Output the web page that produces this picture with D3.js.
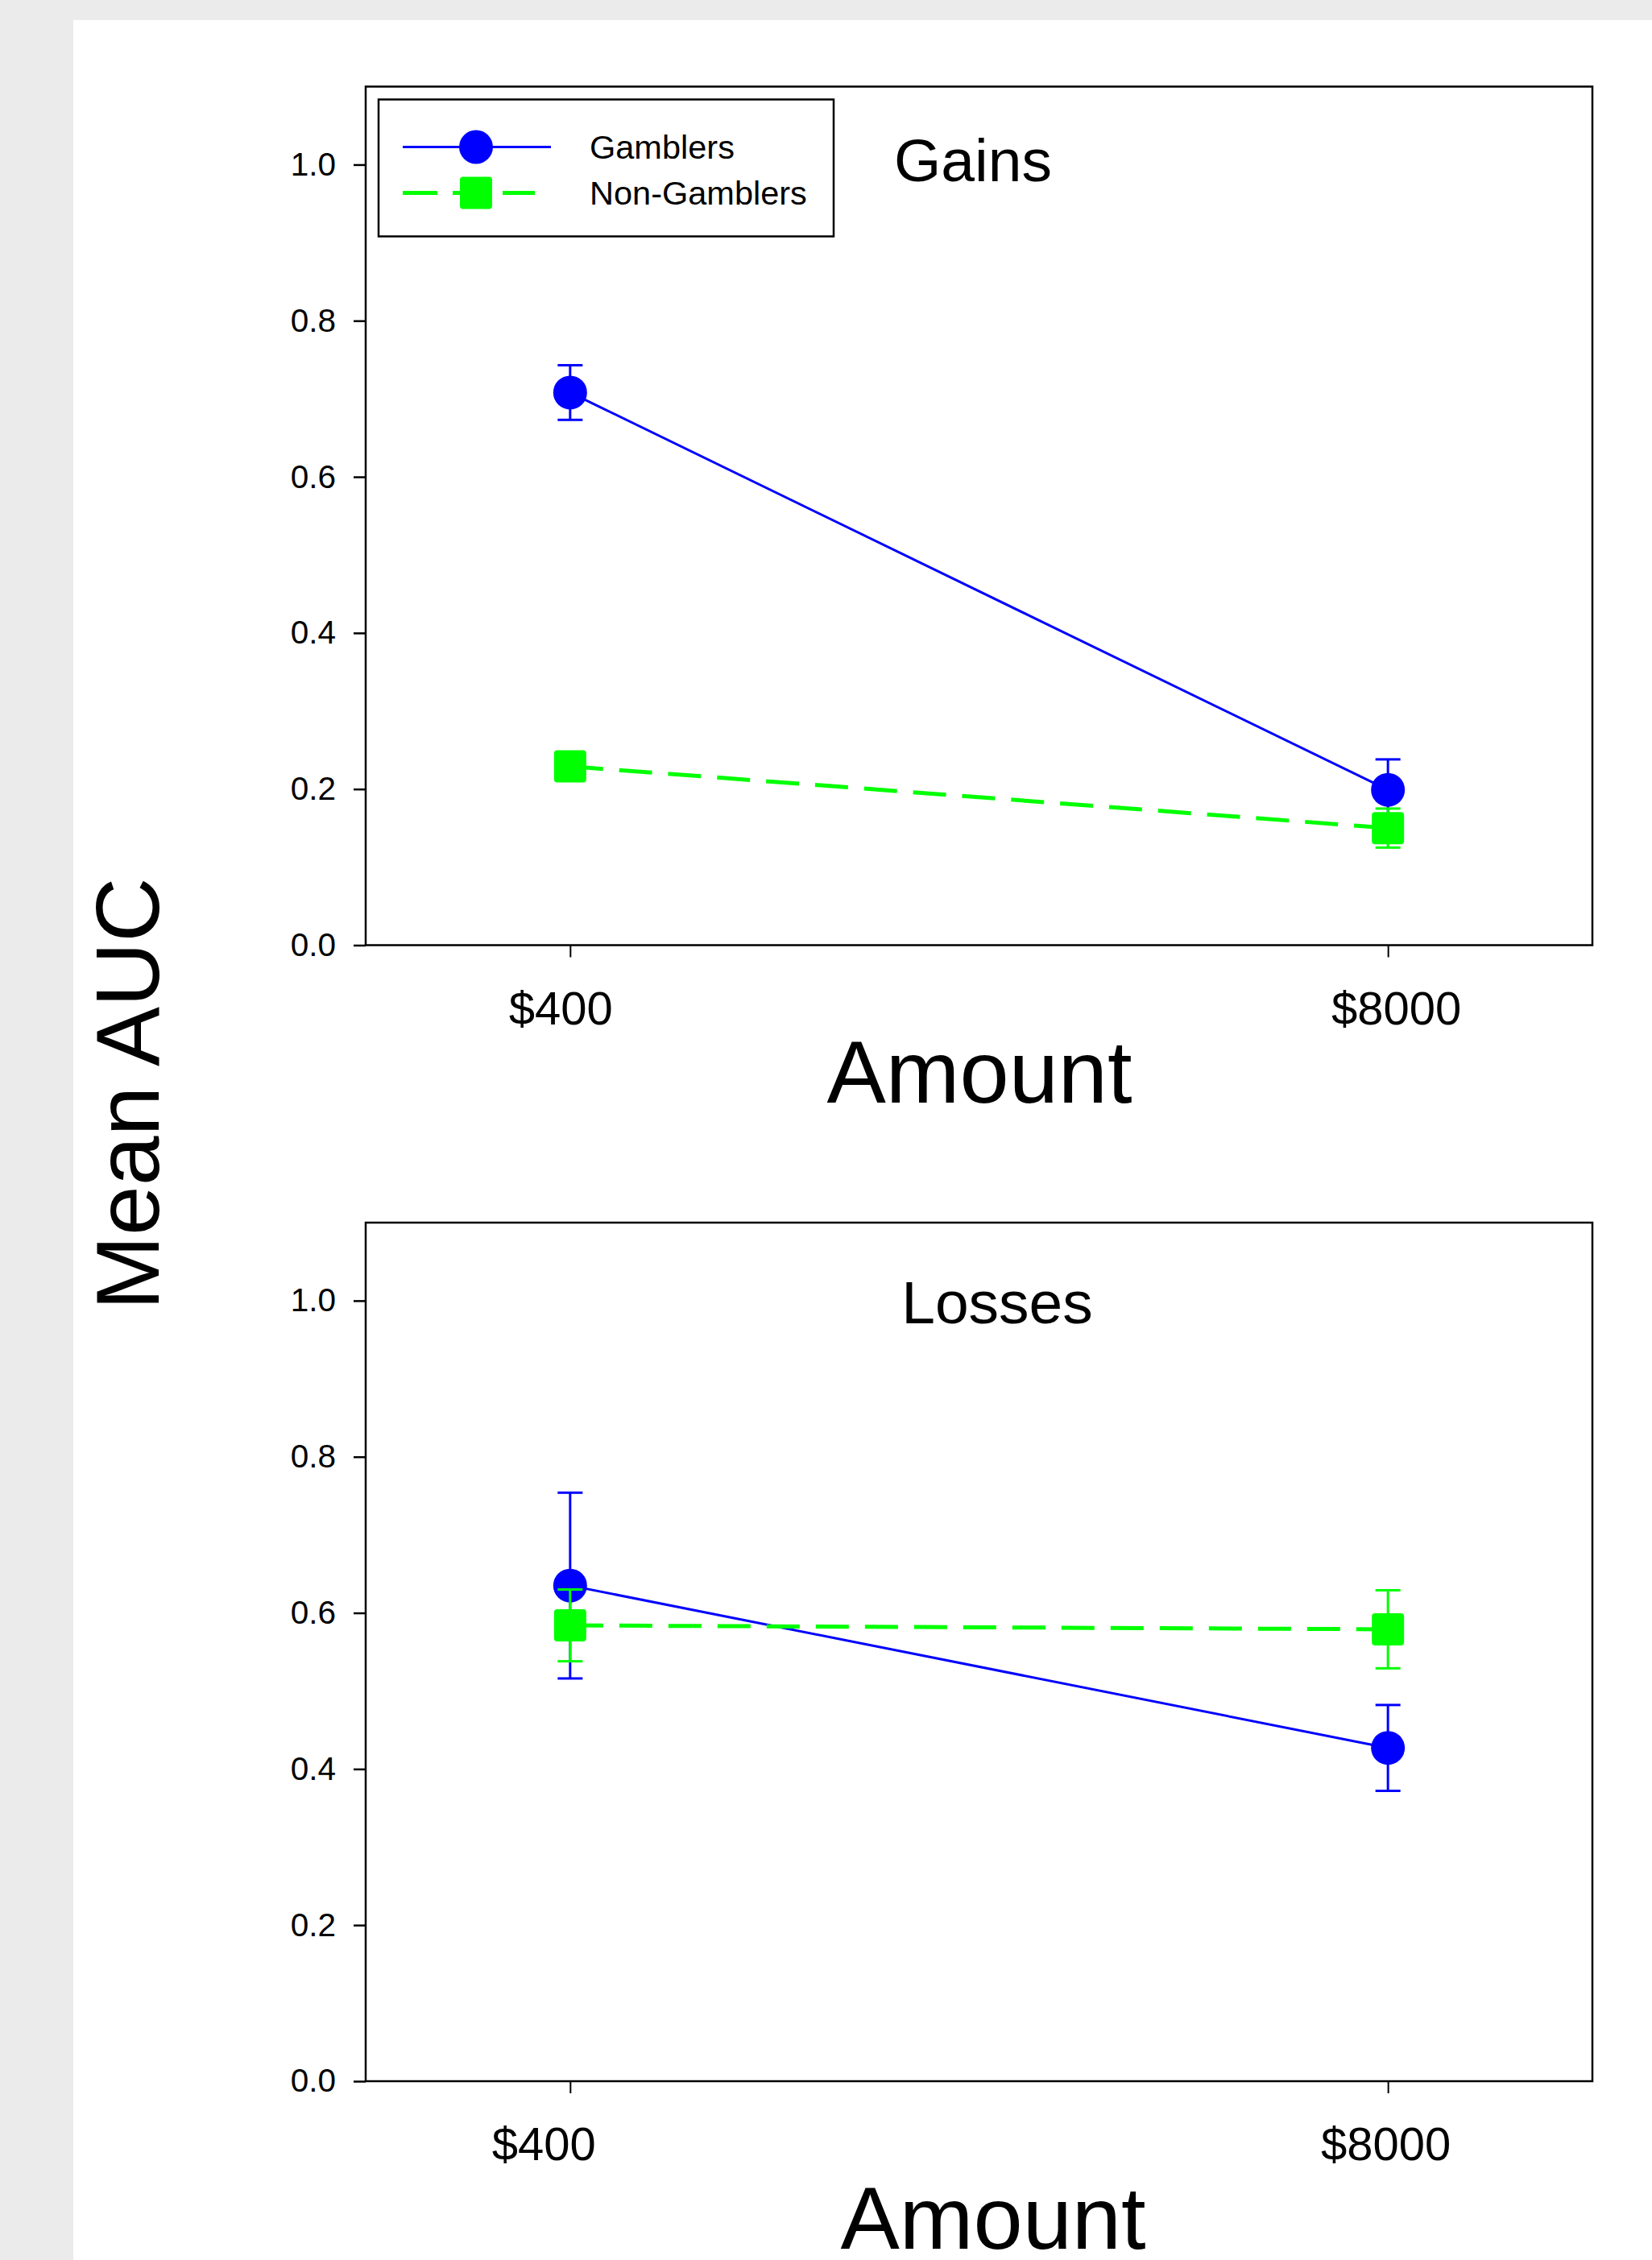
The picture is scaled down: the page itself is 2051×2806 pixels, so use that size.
<!DOCTYPE html>
<html>
<head>
<meta charset="utf-8">
<script src="https://cdn.jsdelivr.net/npm/d3@7"></script>
<style>
  body { margin: 0; background: #ebebeb; }
  svg { display: block; font-family: "Liberation Sans", Arial, sans-serif; }
</style>
</head>
<body>
<svg id="chart"></svg>
<script>
// values
const amounts = ['$400', '$8000'];
const yTicks = [0.0, 0.2, 0.4, 0.6, 0.8, 1.0];

const gainsGamblers = [0.708, 0.199];
const gainsGamblersSE = [0.035, 0.039];
const gainsNonGamblers = [0.229, 0.150];
const gainsNonGamblersSE = [0.012, 0.025];

const lossesGamblers = [0.635, 0.427];
const lossesGamblersSE = [0.119, 0.055];
const lossesNonGamblers = [0.584, 0.579];
const lossesNonGamblersSE = [0.046, 0.050];

const groups = ['Gamblers', 'Non-Gamblers'];

const W = 2051, H = 2806;
const svg = d3.select('#chart').attr('width', W).attr('height', H);

svg.append('rect').attr('width', W).attr('height', H).attr('fill', '#ebebeb');
svg.append('rect').attr('x', 91).attr('y', 25).attr('width', W - 91).attr('height', H - 25).attr('fill', '#fff');

const left = 454, right = 1977, plotH = 1066;
const panels = [
  { title: 'Gains', top: 107.5, titleX: 1208, titleDy: 117.5, labelX: 1216, labelDy: 195,
    tickShift: [-12, 10], legend: true,
    series: [
      { name: groups[0], values: gainsGamblers, se: gainsGamblersSE },
      { name: groups[1], values: gainsNonGamblers, se: gainsNonGamblersSE }] },
  { title: 'Losses', top: 1518, titleX: 1238, titleDy: 125, labelX: 1233, labelDy: 208,
    tickShift: [-33, -3], legend: false,
    series: [
      { name: groups[0], values: lossesGamblers, se: lossesGamblersSE },
      { name: groups[1], values: lossesNonGamblers, se: lossesNonGamblersSE }] }
];

const style = {
  'Gamblers': { color: '#0000ff', width: 3, dash: null, shape: 'circle' },
  'Non-Gamblers': { color: '#00ff00', width: 5, dash: '41,20', shape: 'square' }
};

const x = d3.scalePoint().domain(amounts).range([left, right]).padding(0.25);

function marker(g, shape, color, cx, cy) {
  if (shape === 'circle') {
    g.append('circle').attr('cx', cx).attr('cy', cy).attr('r', 21).attr('fill', color);
  } else {
    g.append('rect').attr('x', cx - 20).attr('y', cy - 20).attr('width', 40).attr('height', 40)
      .attr('rx', 4).attr('fill', color);
  }
}

panels.forEach(p => {
  const bottom = p.top + plotH;
  const y = d3.scaleLinear().domain([0, 1.1]).range([bottom, p.top]);
  const g = svg.append('g');

  // frame
  g.append('rect').attr('x', left).attr('y', p.top).attr('width', right - left).attr('height', plotH)
    .attr('fill', 'none').attr('stroke', '#000').attr('stroke-width', 2.5);

  const ya = g.append('g').attr('transform', `translate(${left},0)`)
    .call(d3.axisLeft(y).tickValues(yTicks).tickFormat(d3.format('.1f')).tickSize(15).tickPadding(22));
  ya.select('.domain').remove();
  ya.selectAll('line').attr('stroke-width', 2.5);
  ya.selectAll('text').attr('font-size', 40.5).attr('fill', '#000').attr('font-family', null);

  const xa = g.append('g').attr('transform', `translate(0,${bottom})`)
    .call(d3.axisBottom(x).tickSize(15).tickPadding(42));
  xa.select('.domain').remove();
  xa.selectAll('line').attr('stroke-width', 2);
  xa.selectAll('text').attr('font-size', 58).attr('fill', '#000').attr('font-family', null)
    .attr('dx', (d, i) => p.tickShift[i]);

  // series
  p.series.forEach(s => {
    const st = style[s.name];
    const line = d3.line().x((d, i) => x(amounts[i])).y(d => y(d));
    g.append('path').datum(s.values).attr('d', line).attr('fill', 'none')
      .attr('stroke', st.color).attr('stroke-width', st.width).attr('stroke-dasharray', st.dash);
    s.values.forEach((v, i) => {
      const cx = x(amounts[i]);
      const lo = y(v - s.se[i]), hi = y(v + s.se[i]);
      g.append('line').attr('x1', cx).attr('x2', cx).attr('y1', lo).attr('y2', hi)
        .attr('stroke', st.color).attr('stroke-width', 3);
      [lo, hi].forEach(cy => g.append('line').attr('x1', cx - 15.5).attr('x2', cx + 15.5)
        .attr('y1', cy).attr('y2', cy).attr('stroke', st.color).attr('stroke-width', 3));
      marker(g, st.shape, st.color, cx, y(v));
    });
  });

  g.append('text').attr('x', p.titleX).attr('y', p.top + p.titleDy).attr('text-anchor', 'middle')
    .attr('font-size', 75).text(p.title);

  g.append('text').attr('x', p.labelX).attr('y', bottom + p.labelDy).attr('text-anchor', 'middle')
    .attr('font-size', 110).text('Amount');

  if (p.legend) {
    const lx = left + 16, ly = p.top + 16;
    const lg = g.append('g');
    lg.append('rect').attr('x', lx).attr('y', ly).attr('width', 565).attr('height', 170)
      .attr('fill', '#fff').attr('stroke', '#000').attr('stroke-width', 2.5);
    groups.forEach((name, i) => {
      const st = style[name];
      const cy = ly + 59 + i * 57;
      lg.append('line').attr('x1', lx + 30).attr('x2', lx + (i ? 194 : 214)).attr('y1', cy).attr('y2', cy)
        .attr('stroke', st.color).attr('stroke-width', st.width).attr('stroke-dasharray', st.dash ? '43,19' : null);
      marker(lg, st.shape, st.color, lx + 121, cy);
      lg.append('text').attr('x', lx + 262).attr('y', cy + 14).attr('font-size', 41.5).text(name);
    });
  }
});

svg.append('text').attr('transform', 'translate(197,1358) rotate(-90)').attr('text-anchor', 'middle')
  .attr('font-size', 111).text('Mean AUC');
</script>
</body>
</html>
